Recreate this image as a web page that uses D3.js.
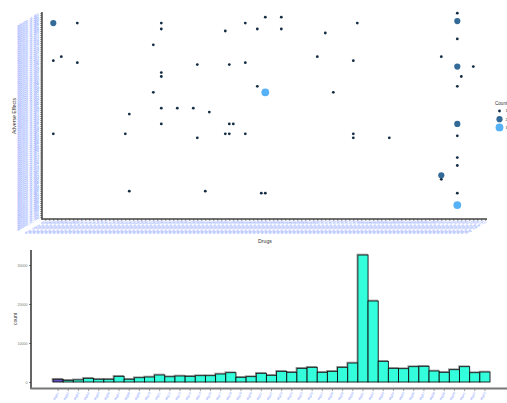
<!DOCTYPE html>
<html><head><meta charset="utf-8">
<script src="https://cdn.jsdelivr.net/npm/d3@7"></script>
<style>body{margin:0;background:#fff}svg{display:block}text{font-family:"Liberation Sans",Arial,sans-serif}</style>
</head><body><svg id="c" width="507" height="403"></svg>
<script>
// Category labels are illegible in the reference; placeholder names used.
const drugNames = d3.range(111).map(i => "drug_name_" + String(i + 1).padStart(3, "0"));
const effectNames = d3.range(104).map(i => "adverse_ef_" + String(i + 1).padStart(3, "0"));

// Dot plot data: drug index, effect index, count
const dotDrug   = [103,2,8,29,50,78,103,55,59,59,53,29,45,70,103,27,2,4,8,38,46,50,29,29,68,77,99,103,107,104,103,53,55,27,72,29,33,37,21,41,29,46,47,2,20,38,45,46,50,77,77,86,103,103,103,103,99,99,21,40,54,55,103,103];
const dotEffect = [0,5,5,5,5,5,4,2,2,8,8,8,9,10,13,16,24,22,25,26,26,25,30,32,22,24,22,27,27,32,37,37,40,40,40,48,48,48,51,50,56,56,56,61,61,63,61,61,61,61,63,63,56,62,73,77,82,84,90,90,91,91,91,97];
const dotCount  = [1,2,1,1,1,1,2,1,1,1,1,1,1,1,1,1,1,1,1,1,1,1,1,1,1,1,1,2,1,1,1,1,3,1,1,1,1,1,1,1,1,1,1,1,1,1,1,1,1,1,1,1,2,1,1,1,2,1,1,1,1,1,1,3];
const legendCounts = [1, 2, 3];

// Histogram data
const barDrugs = d3.range(43).map(i => "drg" + String(i + 1).padStart(2, "0"));
const barCounts = [700,430,550,940,700,700,1450,700,1100,1280,1800,1350,1540,1450,1620,1620,2050,2390,1200,1370,2220,1710,2730,2480,3500,3760,2480,2730,3760,4870,32560,20770,5300,3500,3420,3930,4020,2820,2480,3160,3930,2390,2560];
const countTicks = [0, 10000, 20000, 30000];

const svg = d3.select("#c");
const labelBlue = "#7f9bff";

// ---------- Top dot plot ----------
const x = d3.scalePoint().domain(drugNames).range([45.3, 485.3]);
const y = d3.scalePoint().domain(effectNames).range([13.2, 216.9]);
const col = d3.scaleLinear().domain([1, 3]).range(["#132B43", "#56B1F7"]).interpolate(d3.interpolateLab);
const rad = d3.scaleLinear().domain([1, 2, 3]).range([1.4, 3.1, 3.9]);

const gy = svg.append("g").attr("transform", "translate(42,0)")
  .call(d3.axisLeft(y).tickSize(1.6).tickPadding(1));
gy.select(".domain").remove();
gy.selectAll(".tick line").attr("stroke", "#333").attr("stroke-width", 0.8);
gy.selectAll(".tick text").attr("x", 0).attr("dy", 0).attr("fill", labelBlue)
  .attr("font-size", 3.5).attr("text-anchor", "end")
  .attr("transform", "translate(-2.5,1) rotate(-30)");
svg.append("line").attr("x1", 42).attr("x2", 42).attr("y1", 12).attr("y2", 219.5)
  .attr("stroke", "#444").attr("stroke-width", 1.5);

const gx = svg.append("g").attr("transform", "translate(0,219)")
  .call(d3.axisBottom(x).tickSize(1.6));
gx.select(".domain").remove();
gx.selectAll(".tick line").attr("stroke", "#333").attr("stroke-width", 0.8);
gx.selectAll(".tick text").attr("y", 0).attr("dy", 0).attr("fill", labelBlue)
  .attr("font-size", 3.4).attr("text-anchor", "end")
  .attr("transform", "translate(1,3) rotate(-30)");
svg.append("line").attr("x1", 41.3).attr("x2", 487).attr("y1", 219).attr("y2", 219)
  .attr("stroke", "#444").attr("stroke-width", 1.5);

svg.append("g").selectAll("circle").data(dotDrug.map((d, i) => i)).join("circle")
  .attr("cx", i => x(drugNames[dotDrug[i]]))
  .attr("cy", i => y(effectNames[dotEffect[i]]))
  .attr("r", i => rad(dotCount[i]))
  .attr("fill", i => col(dotCount[i]));

svg.append("text").attr("transform", "translate(16,116) rotate(-90)")
  .attr("text-anchor", "middle").attr("font-size", 5.2).attr("fill", "#333").text("Adverse Effects");
svg.append("text").attr("x", 265).attr("y", 243).attr("text-anchor", "middle")
  .attr("font-size", 5.2).attr("fill", "#333").text("Drugs");

// legend
svg.append("text").attr("x", 495).attr("y", 105).attr("font-size", 4.6).attr("fill", "#333").text("Count");
const lg = svg.append("g");
legendCounts.forEach((c, i) => {
  lg.append("circle").attr("cx", 499.5).attr("cy", 111 + i * 8.2).attr("r", rad(c)).attr("fill", col(c));
  lg.append("text").attr("x", 505.5).attr("y", 112.3 + i * 8.2).attr("font-size", 3.6).attr("fill", "#333").text(c);
});

// ---------- Bottom histogram ----------
const xb = d3.scaleBand().domain(barDrugs).range([53, 490]).padding(0);
const yb = d3.scaleLinear().domain([0, 30000]).range([382, 265]);

const bars = svg.append("g");
bars.selectAll("rect.sh").data(barCounts).join("rect").attr("class", "sh")
  .attr("x", (d, i) => xb(barDrugs[i]) - 0.8).attr("y", d => yb(d) - 0.8)
  .attr("width", xb.bandwidth()).attr("height", d => yb(0) - yb(d))
  .attr("fill", "none").attr("stroke", "#999").attr("stroke-width", 1);
bars.selectAll("rect.b").data(barCounts).join("rect").attr("class", "b")
  .attr("x", (d, i) => xb(barDrugs[i])).attr("y", d => yb(d))
  .attr("width", xb.bandwidth()).attr("height", d => yb(0) - yb(d))
  .attr("fill", (d, i) => i === 0 ? "#5d4fc4" : "#33ffdd")
  .attr("stroke", "#111").attr("stroke-width", 0.9);

const gyb = svg.append("g").attr("transform", "translate(31,0)")
  .call(d3.axisLeft(yb).tickValues(countTicks).tickSize(2).tickPadding(1.5).tickFormat(d3.format("d")));
gyb.select(".domain").remove();
gyb.selectAll(".tick line").attr("stroke", "#333").attr("stroke-width", 0.6);
gyb.selectAll(".tick text").attr("fill", "#777").attr("font-size", 3.6);
svg.append("line").attr("x1", 31).attr("x2", 31).attr("y1", 250).attr("y2", 389)
  .attr("stroke", "#111").attr("stroke-width", 1.3);

const gxb = svg.append("g").attr("transform", "translate(0,389)")
  .call(d3.axisBottom(xb).tickSize(2.2));
gxb.select(".domain").remove();
gxb.selectAll(".tick line").attr("stroke", "#666").attr("stroke-width", 0.6);
gxb.selectAll(".tick text").attr("y", 0).attr("dy", 0).attr("fill", labelBlue)
  .attr("font-size", 3.3).attr("text-anchor", "end")
  .attr("transform", "translate(1,4) rotate(-60)");
svg.append("line").attr("x1", 30.5).attr("x2", 507).attr("y1", 388.5).attr("y2", 388.5)
  .attr("stroke", "#777").attr("stroke-width", 1.8);

svg.append("text").attr("transform", "translate(17,319) rotate(-90)")
  .attr("text-anchor", "middle").attr("font-size", 5).attr("fill", "#333").text("count");
</script></body></html>
